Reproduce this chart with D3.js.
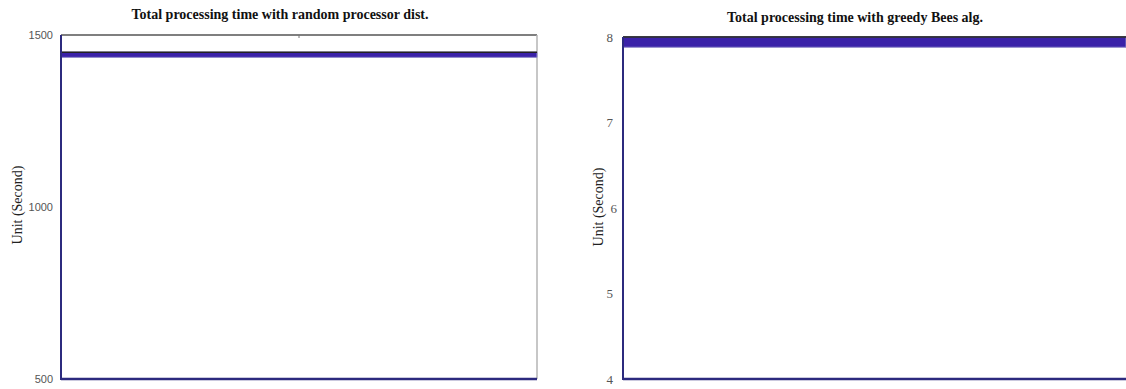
<!DOCTYPE html>
<html>
<head>
<meta charset="utf-8">
<script src="https://cdn.jsdelivr.net/npm/d3@7"></script>
<style>
  body { margin: 0; background: #fff; }
  svg { display: block; }
</style>
</head>
<body>
<div id="graphwindow"></div>
<script>
// donnees
const runs = [0, 1];
const randomUpper = [1450, 1450];
const randomLower = [1435, 1435];
const beesUpper = [8, 8];
const beesLower = [7.88, 7.88];
const randomTicks = [500, 1000, 1500];
const beesTicks = [4, 5, 6, 7, 8];

const svg = d3
  .select("#graphwindow")
  .append("svg")
  .attr("width", 1126)
  .attr("height", 389);

function drawPanel(opt) {
  const g = svg.append("g");
  const x = d3.scaleLinear().domain([0, 1]).range([opt.left, opt.right]);
  const y = d3.scaleLinear().domain(opt.domain).range([379, opt.top]);

  const data = runs.map((r, i) => ({ r: r, hi: opt.upper[i], lo: opt.lower[i] }));

  // cadre haut / droit
  g.append("line")
    .attr("x1", opt.left).attr("x2", opt.right)
    .attr("y1", y(opt.domain[1])).attr("y2", y(opt.domain[1]))
    .style("stroke", "#555").style("stroke-width", 1.5);
  if (opt.rightBorder) {
    g.append("line")
      .attr("x1", opt.right).attr("x2", opt.right)
      .attr("y1", opt.top).attr("y2", 379)
      .style("stroke", "#b5b5b5").style("stroke-width", 1.5);
  }
  // petite graduation en haut
  g.append("line")
    .attr("x1", opt.topTick).attr("x2", opt.topTick)
    .attr("y1", y(opt.domain[1])).attr("y2", y(opt.domain[1]) + 3)
    .style("stroke", "#777").style("stroke-width", 1);

  // bande
  const area = d3.area()
    .x((d) => x(d.r))
    .y0((d) => y(d.lo))
    .y1((d) => y(d.hi));
  g.append("path")
    .datum(data)
    .attr("d", area)
    .style("fill", "#3a22a8")
    .style("stroke", "#8c86c8")
    .style("stroke-width", 1);
  const line = d3.line().x((d) => x(d.r)).y((d) => y(d.hi));
  g.append("path")
    .datum(data)
    .attr("d", line)
    .style("fill", "none")
    .style("stroke", "#222")
    .style("stroke-width", 1.5);

  // axes gauche et bas
  g.append("line")
    .attr("x1", opt.left).attr("x2", opt.left)
    .attr("y1", opt.top).attr("y2", 380)
    .style("stroke", "#2c2a7e").style("stroke-width", 2);
  g.append("line")
    .attr("x1", opt.left).attr("x2", opt.right)
    .attr("y1", 379).attr("y2", 379)
    .style("stroke", "#2c2a7e").style("stroke-width", 2.5);

  // graduations
  const ax = g.append("g")
    .attr("transform", "translate(" + opt.labelX + ",0)")
    .call(d3.axisLeft(y).tickValues(opt.ticks).tickSize(0).tickPadding(0).tickFormat(d3.format("d")));
  ax.select(".domain").remove();
  ax.selectAll("text")
    .attr("dx", (d) => (opt.shift && opt.shift[d]) || 0)
    .style("fill", "#555")
    .style("font-family", opt.tickFont)
    .style("font-size", opt.tickSize);

  // titre
  g.append("text")
    .attr("x", opt.titleX)
    .attr("y", opt.titleY)
    .attr("text-anchor", "middle")
    .style("font-family", "Liberation Serif")
    .style("font-weight", "bold")
    .style("font-size", "14px")
    .style("fill", "#111")
    .text(opt.title);

  // label y
  g.append("text")
    .attr("transform", "translate(" + opt.yLabelX + "," + opt.yLabelY + ") rotate(-90)")
    .attr("text-anchor", "middle")
    .style("font-family", "Liberation Serif")
    .style("font-size", "14px")
    .style("fill", "#222")
    .text("Unit (Second)");
}

drawPanel({
  left: 61, right: 537, top: 35,
  domain: [500, 1500],
  upper: randomUpper, lower: randomLower,
  ticks: randomTicks,
  labelX: 53, tickFont: "Liberation Sans", tickSize: "11px",
  rightBorder: true, topTick: 299,
  title: "Total processing time with random processor dist.",
  titleX: 280, titleY: 19,
  yLabelX: 22, yLabelY: 205
});

drawPanel({
  left: 623, right: 1126, top: 37,
  domain: [4, 8],
  upper: beesUpper, lower: beesLower,
  ticks: beesTicks,
  shift: { 6: 4 },
  labelX: 613, tickFont: "Liberation Serif", tickSize: "13px",
  rightBorder: false, topTick: 852,
  title: "Total processing time with greedy Bees alg.",
  titleX: 855, titleY: 22,
  yLabelX: 603, yLabelY: 207
});
</script>
</body>
</html>
